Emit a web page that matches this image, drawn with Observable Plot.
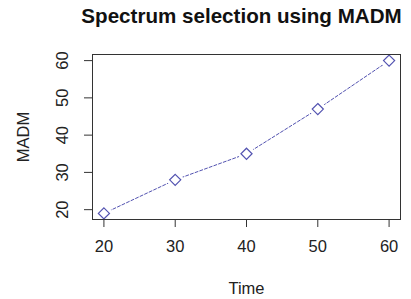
<!DOCTYPE html>
<html>
<head>
<meta charset="utf-8">
<script src="https://cdn.jsdelivr.net/npm/d3@7"></script>
<script src="https://cdn.jsdelivr.net/npm/@observablehq/plot@0.6"></script>
<style>
  html, body { margin: 0; padding: 0; background: #fff; }
  #chart svg { display: block; }
</style>
</head>
<body>
<div id="chart"></div>
<script>
const title = "Spectrum selection using MADM";
const time = [20, 30, 40, 50, 60];
const madm = [19, 28, 35, 47, 60];
const xTicks = [20, 30, 40, 50, 60];
const yTicks = [20, 30, 40, 50, 60];
const xLabel = "Time";
const yLabel = "MADM";

const data = time.map((t, i) => ({time: t, madm: madm[i]}));
const font = '"Liberation Sans", Arial, sans-serif';
const lineColor = "#5252b0";
const textColor = "#222";

const chart = Plot.plot({
  width: 411,
  height: 299,
  marginTop: 54,
  marginBottom: 80,
  marginLeft: 92,
  marginRight: 11,
  style: {fontFamily: font, background: "#fff", color: textColor},
  x: {domain: [18.4, 61.6]},
  y: {domain: [17.36, 61.64]},
  marks: [
    Plot.line(data, {x: "time", y: "madm", stroke: lineColor, strokeWidth: 1, strokeDasharray: "3,2"}),
    Plot.dot(data, {x: "time", y: "madm", r: 8, fill: "#fff", stroke: null}),
    Plot.dot(data, {x: "time", y: "madm", symbol: "diamond2", r: 5, stroke: lineColor, strokeWidth: 1.2, fill: "none"}),
    Plot.frame({stroke: "#333", strokeWidth: 1}),
    Plot.axisX({ticks: xTicks, tickSize: 8, tickPadding: 13, fontSize: 16.5, label: null, stroke: "#333", fill: textColor}),
    Plot.axisY({ticks: yTicks, tickSize: 8, tickFormat: () => "", label: null, stroke: "#333"}),
    Plot.text(yTicks, {y: d => d, text: d => String(d), frameAnchor: "left", dx: -30, rotate: -90,
      textAnchor: "middle", lineAnchor: "middle", fontSize: 16.5, fill: textColor}),
    Plot.text([yLabel], {text: d => d, frameAnchor: "left", dx: -69, rotate: -90,
      textAnchor: "middle", lineAnchor: "middle", fontSize: 16.5, fill: textColor}),
    Plot.text([xLabel], {text: d => d, frameAnchor: "bottom", dy: 69,
      textAnchor: "middle", lineAnchor: "middle", fontSize: 16.5, fill: textColor}),
    Plot.text([title], {text: d => d, frameAnchor: "top", dy: -38, dx: -5,
      textAnchor: "middle", lineAnchor: "middle", fontSize: 20.6, fontWeight: "bold", fill: "#111"})
  ]
});
document.getElementById("chart").appendChild(chart);
</script>
</body>
</html>
